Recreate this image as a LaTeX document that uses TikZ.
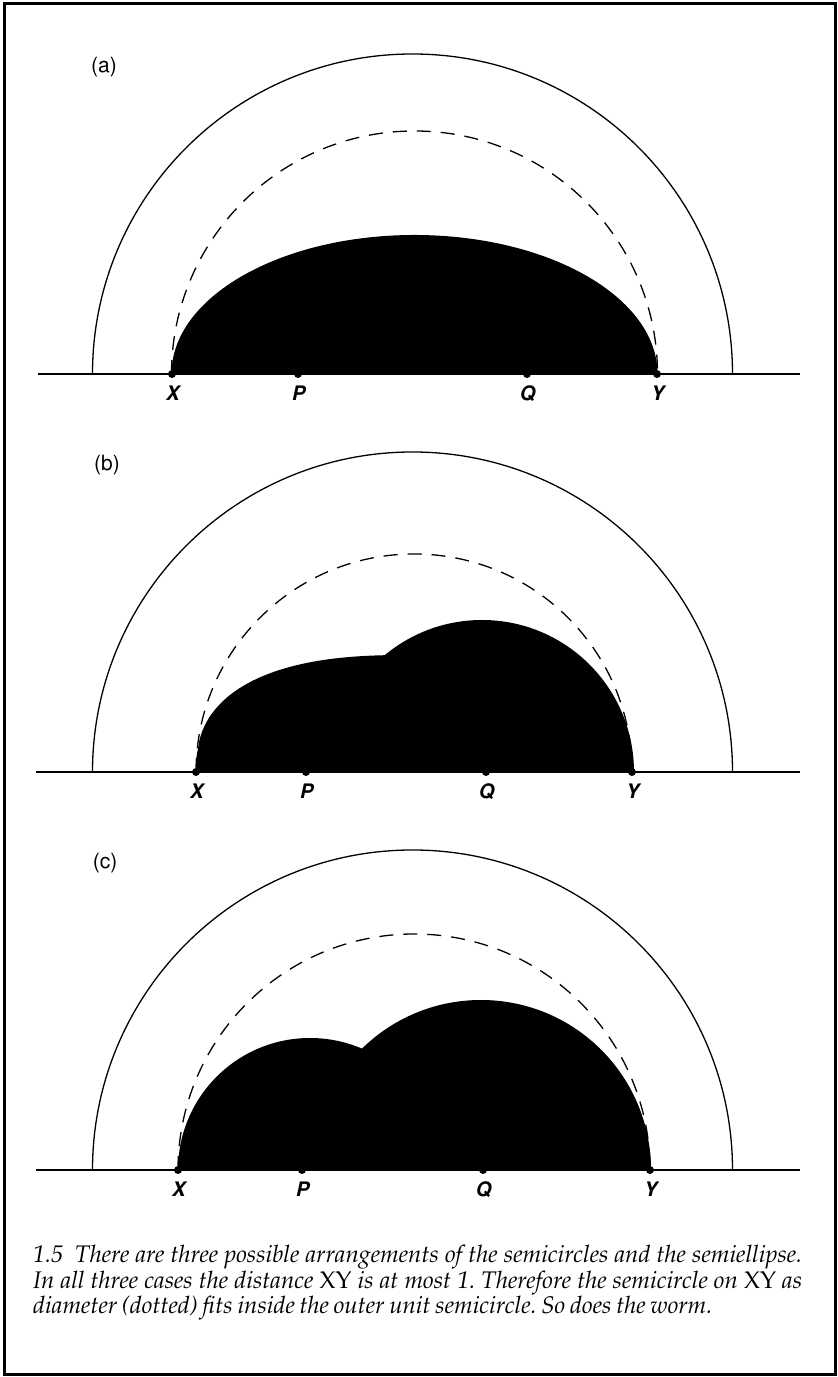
\documentclass[tikz,border=0pt]{standalone}
\usepackage[T1]{fontenc}
\usepackage{mathpazo}
\usepackage{helvet}
\usetikzlibrary{positioning}

\begin{document}
\begin{tikzpicture}[x=1pt, y=1pt,
  outer/.style={line width=1.3pt},
  diam/.style={line width=1.3pt, dash pattern=on 14pt off 10pt},
  worm/.style={fill=black},
  axis/.style={line width=1.6pt},
  pt/.style={circle, fill=black, inner sep=0pt, minimum size=8pt},
  ptlabel/.style={font=\fontsize{20}{22}\selectfont\sffamily\bfseries\itshape, inner sep=0pt},
  panel/.style={font=\fontsize{21}{23}\selectfont\sffamily, inner sep=0pt},
  caption/.style={font=\fontsize{24}{25.5}\selectfont\itshape, text width=769pt,
                  align=justify, inner sep=0pt}]
\useasboundingbox (0,0) rectangle (838,1377);
\draw[line width=3pt] (4,2) rectangle (835,1373);

% (a)
\begin{scope}[shift={(0,1003)}]
\node[panel] (la) at (104,307) {(a)};
\draw[outer] (92.5,0) arc[start angle=180, end angle=0, radius=320];
\draw[diam] (171.5,0) arc[start angle=180, end angle=0, radius=243];
\fill[worm] (171.5,0) arc[start angle=180, end angle=0, x radius=243, y radius=139] -- cycle;
\draw[axis] (38,0) -- (800,0);
\node[pt] (Xa) at (172,0) {};
\node[pt] (Pa) at (298,0) {};
\node[pt] (Qa) at (527,0) {};
\node[pt] (Ya) at (657,0) {};
\node[ptlabel, below=8pt of Xa] {X};
\node[ptlabel, below=8pt of Pa] {P};
\node[ptlabel, below=8pt of Qa] {Q};
\node[ptlabel, below=8pt of Ya] {Y};
\end{scope}

% (b)
\begin{scope}[shift={(0,605)}]
\node[panel] (lb) at (107,307) {(b)};
\draw[outer] (92.5,0) arc[start angle=180, end angle=0, radius=320];
\draw[diam] (196,0) arc[start angle=180, end angle=0, radius=218];
% flattened semiellipse, smooth shoulder
\fill[worm] (196,0) -- plot[domain=196.5:623.5, samples=140]
  (\x, {117*(1-abs((\x-410)/214)^2.5)^(0.4)}) -- (624,0) -- cycle;
\fill[worm] (330,0) arc[start angle=180, end angle=0, radius=152] -- cycle;
\draw[axis] (36,0) -- (800,0);
\node[pt] (Xb) at (196,0) {};
\node[pt] (Pb) at (306,0) {};
\node[pt] (Qb) at (486,0) {};
\node[pt] (Yb) at (632,0) {};
\node[ptlabel, below=8pt of Xb] {X};
\node[ptlabel, below=8pt of Pb] {P};
\node[ptlabel, below=8pt of Qb] {Q};
\node[ptlabel, below=8pt of Yb] {Y};
\end{scope}

% (c)
\begin{scope}[shift={(0,207)}]
\node[panel] (lc) at (105,307) {(c)};
\draw[outer] (92.5,0) arc[start angle=180, end angle=0, radius=320];
\draw[diam] (178,0) arc[start angle=180, end angle=0, radius=236];
\fill[worm] (178,0) arc[start angle=180, end angle=0, radius=132] -- cycle;
\fill[worm] (311,0) arc[start angle=180, end angle=0, radius=170] -- cycle;
\draw[axis] (36,0) -- (800,0);
\node[pt] (Xc) at (178,0) {};
\node[pt] (Pc) at (302,0) {};
\node[pt] (Qc) at (483,0) {};
\node[pt] (Yc) at (650,0) {};
\node[ptlabel, below=8pt of Xc] {X};
\node[ptlabel, below=8pt of Pc] {P};
\node[ptlabel, below=8pt of Qc] {Q};
\node[ptlabel, below=8pt of Yc] {Y};
\end{scope}

\node[caption, anchor=north west] (cap) at (33,132) {\hyphenpenalty=10000
  \frenchspacing\spaceskip=0.2em plus 0.5em minus 0.08em\xspaceskip=\spaceskip
  1.5\hspace{0.5em}There are three possible arrangements of the semicircles and the semiellipse.\linebreak
  In all three cases the distance \textup{XY} is at most 1. Therefore the semicircle on \textup{XY} as\linebreak
  diameter (dotted) fits inside the outer unit semicircle. So does the worm.};
\end{tikzpicture}
\end{document}
